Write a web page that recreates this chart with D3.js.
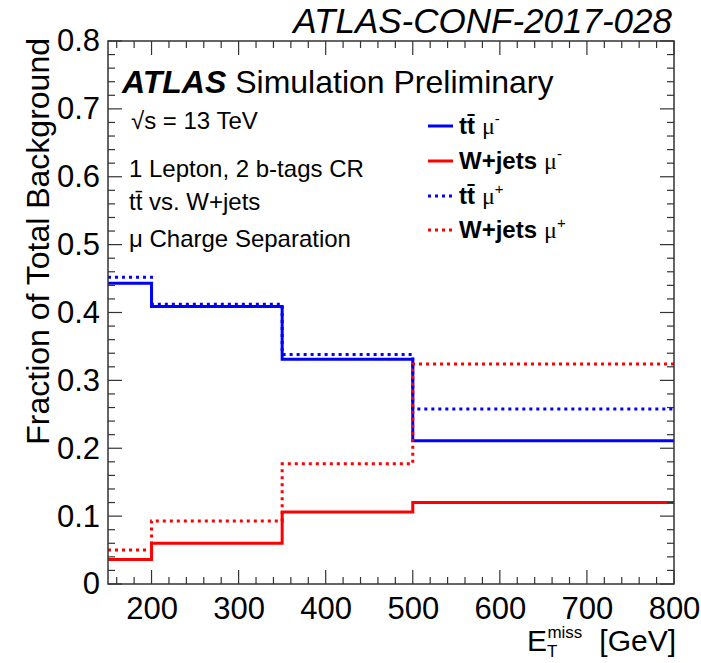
<!DOCTYPE html>
<html>
<head>
<meta charset="utf-8">
<script src="https://cdn.jsdelivr.net/npm/d3@7"></script>
<style>
  html, body { margin: 0; padding: 0; background: #fff; }
  svg { display: block; font-family: "Liberation Sans", Arial, Helvetica, sans-serif; }
</style>
</head>
<body>
<svg id="chart" width="701" height="663"></svg>
<script>
// Bin edges in missing transverse energy [GeV]
const binEdges = [150, 200, 350, 500, 800];

// Fraction of total background per bin
const ttMuMinus = [0.443, 0.409, 0.331, 0.211];
const wjetsMuMinus = [0.036, 0.060, 0.106, 0.120];
const ttMuPlus = [0.452, 0.412, 0.338, 0.258];
const wjetsMuPlus = [0.050, 0.093, 0.177, 0.324];

const xTicks = [200, 300, 400, 500, 600, 700, 800];
const yTicks = [0, 0.1, 0.2, 0.3, 0.4, 0.5, 0.6, 0.7, 0.8];

const series = [
  { name: "tt\u0304", charge: "-", values: ttMuMinus, color: "#0000ff", dotted: false },
  { name: "W+jets", charge: "-", values: wjetsMuMinus, color: "#ff0000", dotted: false },
  { name: "tt\u0304", charge: "+", values: ttMuPlus, color: "#0000ff", dotted: true },
  { name: "W+jets", charge: "+", values: wjetsMuPlus, color: "#ff0000", dotted: true }
];

const svg = d3.select("#chart");
const frame = { left: 108, right: 674, top: 41, bottom: 584 };

const x = d3.scaleLinear().domain([150, 800]).range([frame.left, frame.right]);
const y = d3.scaleLinear().domain([0, 0.8]).range([frame.bottom, frame.top]);

// Histogram step lines
const step = d3.line()
  .x(d => x(d[0]))
  .y(d => y(d[1]))
  .curve(d3.curveStepAfter);

series.forEach(s => {
  const pts = s.values.map((v, i) => [binEdges[i], v]);
  pts.push([binEdges[binEdges.length - 1], s.values[s.values.length - 1]]);
  svg.append("path")
    .attr("d", step(pts))
    .attr("fill", "none")
    .attr("stroke", s.color)
    .attr("stroke-width", 3)
    .attr("stroke-dasharray", s.dotted ? "3,4" : null);
});

// Frame and ticks on all four sides (ticks pointing inward)
const tickColor = "#333";
const majorLen = 14, minorLen = 7;

const xMinor = d3.range(160, 800, 20).filter(v => v % 100 !== 0);
const yMinor = d3.range(0.02, 0.8, 0.02).filter(v => Math.abs(v * 10 - Math.round(v * 10)) > 1e-6);

const ticksG = svg.append("g").attr("stroke", tickColor).attr("stroke-width", 1.2);

function xTick(v, len) {
  ticksG.append("line").attr("x1", x(v)).attr("x2", x(v)).attr("y1", frame.bottom).attr("y2", frame.bottom - len);
  ticksG.append("line").attr("x1", x(v)).attr("x2", x(v)).attr("y1", frame.top).attr("y2", frame.top + len);
}
function yTick(v, len) {
  ticksG.append("line").attr("y1", y(v)).attr("y2", y(v)).attr("x1", frame.left).attr("x2", frame.left + len);
  ticksG.append("line").attr("y1", y(v)).attr("y2", y(v)).attr("x1", frame.right).attr("x2", frame.right - len);
}
xTicks.forEach(v => xTick(v, majorLen));
xMinor.forEach(v => xTick(v, minorLen));
yTicks.forEach(v => yTick(v, majorLen));
yMinor.forEach(v => yTick(v, minorLen));

svg.append("rect")
  .attr("x", frame.left).attr("y", frame.top)
  .attr("width", frame.right - frame.left).attr("height", frame.bottom - frame.top)
  .attr("fill", "none").attr("stroke", tickColor).attr("stroke-width", 1.5);

// Tick labels
const xAxis = d3.axisBottom(x).tickValues(xTicks).tickSize(0).tickPadding(13).tickFormat(d3.format("d"));
const gx = svg.append("g").attr("transform", `translate(0,${frame.bottom})`).call(xAxis);
gx.select(".domain").remove();
gx.selectAll("text").attr("font-size", 31).attr("fill", "#000").attr("font-family", "Liberation Sans, Arial, sans-serif");

const yAxis = d3.axisLeft(y).tickValues(yTicks).tickSize(0).tickPadding(8)
  .tickFormat(d => d === 0 ? "0" : d3.format(".1f")(d));
const gy = svg.append("g").attr("transform", `translate(${frame.left},0)`).call(yAxis);
gy.select(".domain").remove();
gy.selectAll("text").attr("font-size", 31).attr("fill", "#000").attr("font-family", "Liberation Sans, Arial, sans-serif");

// Axis titles
svg.append("text")
  .attr("transform", "translate(49,38) rotate(-90)")
  .attr("text-anchor", "end")
  .attr("font-size", 32)
  .text("Fraction of Total Background");

const xt = svg.append("text")
  .attr("x", 527).attr("y", 651)
  .attr("font-size", 30);
xt.append("tspan").text("E");
xt.append("tspan").attr("font-size", 17).attr("dy", 6).text("T");
xt.append("tspan").attr("font-size", 17).attr("dx", -10).attr("dy", -19).text("miss");
svg.append("text")
  .attr("x", frame.right + 2).attr("y", 651)
  .attr("text-anchor", "end")
  .attr("font-size", 30)
  .text("[GeV]");

// Document label
svg.append("text")
  .attr("x", 672).attr("y", 33)
  .attr("text-anchor", "end")
  .attr("font-size", 35)
  .attr("font-style", "italic")
  .text("ATLAS-CONF-2017-028");

// ATLAS label block
const atlas = svg.append("text").attr("x", 122).attr("y", 93).attr("font-size", 32);
atlas.append("tspan").attr("font-weight", "bold").attr("font-style", "italic").text("ATLAS");
atlas.append("tspan").text(" Simulation Preliminary");

svg.append("text").attr("x", 131).attr("y", 129).attr("font-size", 24).text("\u221As = 13 TeV");
svg.append("text").attr("x", 129).attr("y", 177).attr("font-size", 24).text("1 Lepton, 2 b-tags CR");
svg.append("text").attr("x", 129).attr("y", 210).attr("font-size", 24).text("tt\u0304 vs. W+jets");
svg.append("text").attr("x", 129).attr("y", 247).attr("font-size", 24).text("\u03BC Charge Separation");

// Legend
const legY = [126, 161, 196, 230];
series.forEach((s, i) => {
  svg.append("line")
    .attr("x1", 428).attr("x2", 453)
    .attr("y1", legY[i]).attr("y2", legY[i])
    .attr("stroke", s.color).attr("stroke-width", 3)
    .attr("stroke-dasharray", s.dotted ? "3,4" : null);
  const t = svg.append("text").attr("x", 459).attr("y", legY[i] + 8).attr("font-size", 24);
  t.append("tspan").attr("font-weight", "bold").text(s.name);
  t.append("tspan").attr("dx", 7).attr("font-family", "Liberation Serif, serif").text("\u03BC");
  t.append("tspan").attr("font-size", 15).attr("dy", -10).text(s.charge);
});
</script>
</body>
</html>
